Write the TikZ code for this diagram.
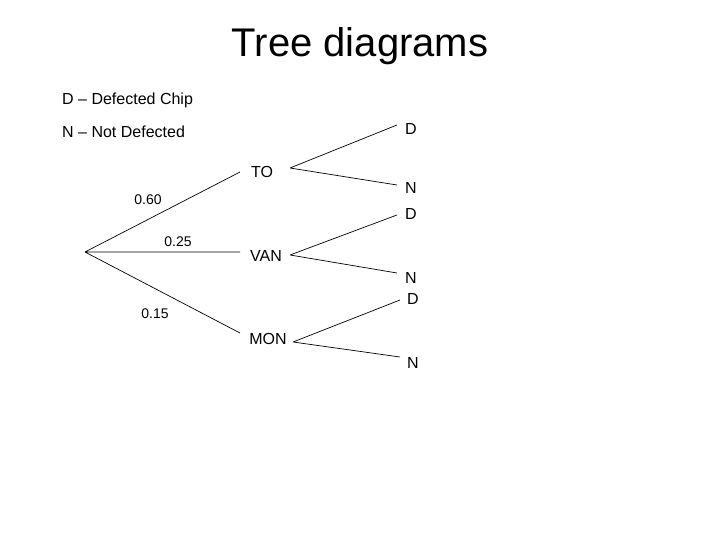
\documentclass[tikz,border=0pt]{standalone}
\usepackage{fontspec}
\setmainfont{Liberation Sans}
\begin{document}
\begin{tikzpicture}[x=1pt,y=-1pt,
  lbl/.style={font=\fontsize{16}{18}\selectfont,inner sep=0pt},
  prob/.style={font=\fontsize{14}{16}\selectfont,inner sep=0pt},
  br/.style={line width=0.7pt}]
\useasboundingbox (0,0) rectangle (720,540);
\node[inner sep=0pt,font=\fontsize{40}{44}\selectfont] (title) at (360,46) {Tree diagrams};
\node[lbl,anchor=west] (k1) at (62,100) {D – Defected Chip};
\node[lbl,anchor=west] (k2) at (62,132) {N – Not Defected};
\coordinate (r) at (85,252);
\coordinate (toE) at (240,172);
\coordinate (vanE) at (240,252);
\coordinate (monE) at (240,333);
\node[lbl] (to) at (262,172) {TO};
\node[lbl] (van) at (266,256) {VAN};
\node[lbl] (mon) at (268,339) {MON};
\draw[br] (r) -- (toE) (r) -- (vanE) (r) -- (monE);
\node[prob] (p1) at (148,200) {0.60};
\node[prob] (p2) at (178,242) {0.25};
\node[prob] (p3) at (155,314) {0.15};
\node[lbl] (d1) at (411,129) {D};
\node[lbl] (n1) at (411,188) {N};
\node[lbl] (d2) at (411,214) {D};
\node[lbl] (n2) at (411,278) {N};
\node[lbl] (d3) at (413,299) {D};
\node[lbl] (n3) at (413,363) {N};
\coordinate (s1) at (290,168);
\coordinate (s2) at (290,255);
\coordinate (s3) at (293,342);
\draw[br] (s1) -- (397,125) (s1) -- (397,185);
\draw[br] (s2) -- (397,215) (s2) -- (397,273);
\draw[br] (s3) -- (400,300) (s3) -- (400,357);
\end{tikzpicture}
\end{document}
